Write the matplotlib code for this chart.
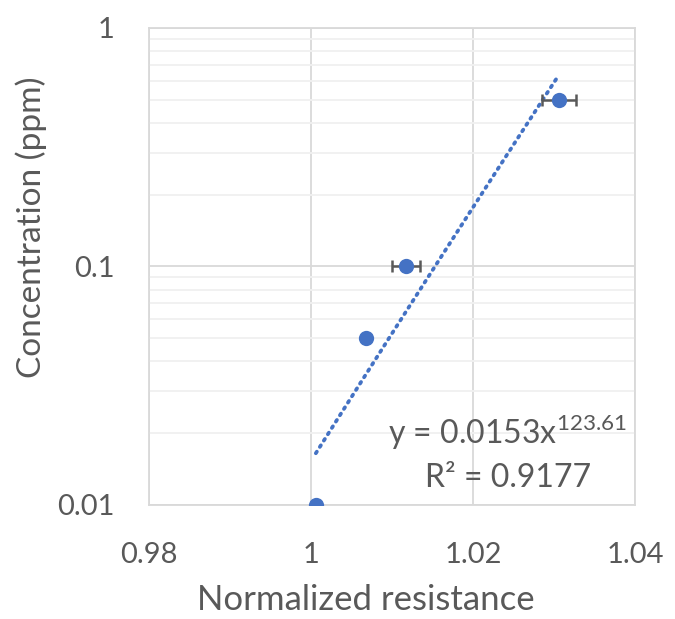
import numpy as np
import matplotlib
matplotlib.use('Agg')
import matplotlib.pyplot as plt

# === Data ===
resistance = [1.0006, 1.0068, 1.0117, 1.0306]
concentration = [0.01, 0.05, 0.1, 0.5]
resistance_err = [0.0, 0.0, 0.0017, 0.0021]

# power-law trendline shown on the chart
fit_coef = 0.0153
fit_exp = 123.61
fit_r2 = 0.9177

x_ticks = [0.98, 1.0, 1.02, 1.04]
x_tick_labels = ['0.98', '1', '1.02', '1.04']
y_ticks = [0.01, 0.1, 1]
y_tick_labels = ['0.01', '0.1', '1']

# === Style ===
plt.rcParams['font.family'] = ['Lato', 'DejaVu Sans']
plt.rcParams['mathtext.fontset'] = 'custom'
plt.rcParams['mathtext.rm'] = 'Lato'
text_col = '#595959'
grid_col = '#d9d9d9'
minor_col = '#f0f0f0'
blue = '#4472C4'

fig = plt.figure(figsize=(6.75, 6.19), dpi=100)
ax = fig.add_axes([0.2207, 0.1842, 0.72, 0.7706])

ax.set_xscale('linear')
ax.set_yscale('log')
ax.set_xlim(0.98, 1.04)
ax.set_ylim(0.01, 1)

# grid
ax.set_axisbelow(True)
ax.grid(True, which='major', color=grid_col, linewidth=1.3)
ax.grid(True, which='minor', axis='y', color=minor_col, linewidth=1.3)
for s in ax.spines.values():
    s.set_color(grid_col)
    s.set_linewidth(1.3)

# trendline
xt = np.linspace(resistance[0], resistance[-1], 100)
yt = fit_coef * xt ** fit_exp
ax.plot(xt, yt, linestyle=(0, (0.5, 1.5)), color=blue, linewidth=2.7,
        dash_capstyle='round', zorder=2)

# error bars and points
ax.errorbar(resistance, concentration, xerr=resistance_err, fmt='none',
            ecolor='#595959', elinewidth=1.8, capsize=4, capthick=1.8, zorder=3)
ax.plot(resistance, concentration, 'o', color=blue, markersize=11,
        markeredgewidth=0, zorder=4)

# ticks
ax.set_xticks(x_ticks)
ax.set_xticklabels(x_tick_labels)
ax.set_yticks(y_ticks)
ax.set_yticklabels(y_tick_labels)
ax.yaxis.set_minor_formatter(matplotlib.ticker.NullFormatter())
ax.tick_params(which='both', length=0, labelsize=21, labelcolor=text_col)
ax.tick_params(axis='x', pad=27)
ax.tick_params(axis='y', pad=25)

ax.set_xlabel('Normalized resistance', fontsize=25, color=text_col)
ax.set_ylabel('Concentration (ppm)', fontsize=24, color=text_col)
ax.xaxis.set_label_coords(0.447, -0.199)
ax.yaxis.set_label_coords(-0.243, 0.583)
ax.xaxis.label.set_va('center')
ax.yaxis.label.set_va('center')

# trendline label
ax.text(1.0243, 0.0201, r'y = ' + f'{fit_coef}' + r'x$^{\mathrm{' + f'{fit_exp}' + r'}}$',
        fontsize=23, color=text_col, ha='center', va='center')
ax.text(1.0243, 0.0130, f'R² = {fit_r2}', fontsize=23, color=text_col,
        ha='center', va='center')

fig.savefig('out.png', dpi=100)
